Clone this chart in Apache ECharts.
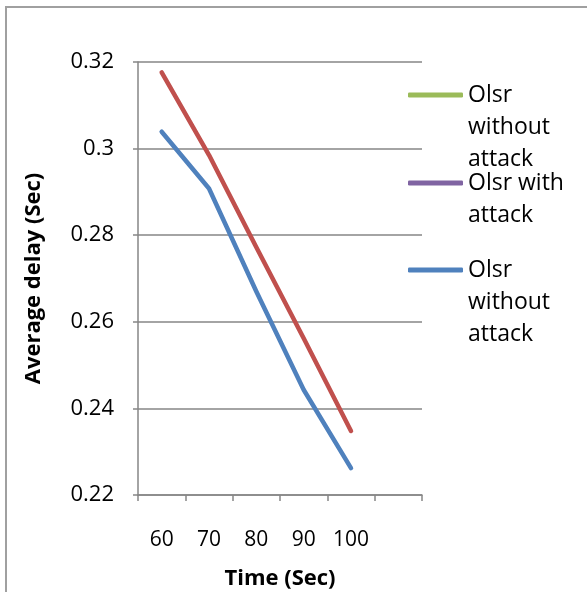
<!DOCTYPE html>
<html style="height: 100%">
<head>
    <meta charset="utf-8">
</head>
<body style="height: 100%; margin: 0; background: #fff">
<div id="container" style="width: 587px; height: 592px"></div>
<script type="text/javascript" src="https://cdn.jsdelivr.net/npm/echarts@6/dist/echarts.min.js"></script>
<script type="text/javascript">
    // data
    var times = ['60', '70', '80', '90', '100', ''];
    var greenDelay = [];                                      // hidden under the other lines
    var purpleDelay = [];
    var redDelay = [0.3176, 0.2985, 0.2772, 0.2562, 0.2348];
    var blueDelay = [0.3039, 0.2908, 0.2670, 0.2443, 0.2262];
    var yTicks = { min: 0.22, max: 0.32, step: 0.02 };

    var font = 'Open Sans';
    var gray = '#868686';

    var dom = document.getElementById("container");
    var myChart = echarts.init(dom);

    // the icon sits on the first text line, so pad with leading blank lines
    function legendBox(name, lines, top) {
        var pad = new Array(lines.length).join('\n');
        return {
            data: [name],
            left: 408,
            top: top,
            padding: 0,
            icon: 'roundRect',
            itemWidth: 55,
            itemHeight: 5,
            itemGap: 5,
            selectedMode: false,
            formatter: pad + lines.join('\n'),
            textStyle: {
                fontFamily: font,
                fontSize: 23,
                color: '#000',
                lineHeight: 32
            }
        };
    }

    var option = {
        animation: false,
        textStyle: { fontFamily: font },
        graphic: [{
            type: 'polyline',
            shape: { points: [[6, 592], [6, 7], [590, 7]] },
            style: { stroke: '#a0a0a0', lineWidth: 2, fill: null }
        }],
        grid: { left: 138, right: 165, top: 62, bottom: 97, outerBoundsMode: 'none' },
        legend: [
            legendBox('Olsr without attack', ['Olsr', 'without', 'attack'], 15),
            legendBox('Olsr with attack', ['Olsr with', 'attack'], 135),
            legendBox('Olsr without attack (2)', ['Olsr', 'without', 'attack'], 190)
        ],
        xAxis: {
            type: 'category',
            data: times,
            boundaryGap: true,
            name: 'Time (Sec)',
            nameLocation: 'middle',
            nameGap: 73,
            nameTextStyle: { fontFamily: font, fontSize: 22, fontWeight: 'bold', color: '#000' },
            axisLine: { lineStyle: { color: gray, width: 1.5 } },
            axisTick: { show: true, length: 6, lineStyle: { color: gray, width: 1.5 } },
            axisLabel: { margin: 35, fontFamily: font, fontSize: 21, color: '#000', interval: 0 },
            splitLine: { show: false }
        },
        yAxis: {
            type: 'value',
            min: yTicks.min,
            max: yTicks.max,
            interval: yTicks.step,
            name: 'Average delay (Sec)',
            nameLocation: 'middle',
            nameGap: 93,
            nameTextStyle: { fontFamily: font, fontSize: 22, fontWeight: 'bold', color: '#000' },
            axisLine: { show: true, lineStyle: { color: gray, width: 1.5 } },
            axisTick: { show: true, length: 5, lineStyle: { color: gray, width: 1.5 } },
            axisLabel: {
                margin: 24, fontFamily: font, fontSize: 22, color: '#000',
                formatter: function (v) { return String(Math.round(v * 100) / 100); }
            },
            splitLine: { lineStyle: { color: gray, width: 1.5 } }
        },
        series: [
            {
                name: 'Olsr without attack', type: 'line', data: greenDelay,
                symbol: 'none', color: '#9BBB59', lineStyle: { width: 4.5 }
            },
            {
                name: 'Olsr with attack', type: 'line', data: purpleDelay,
                symbol: 'none', color: '#8064A2', lineStyle: { width: 4.5 }
            },
            {
                name: 'Olsr red', type: 'line', data: redDelay,
                symbol: 'none', color: '#C0504D', lineStyle: { width: 4.5, cap: 'round', join: 'round' }
            },
            {
                name: 'Olsr without attack (2)', type: 'line', data: blueDelay,
                symbol: 'none', color: '#4F81BD', lineStyle: { width: 4.5, cap: 'round', join: 'round' }
            }
        ]
    };

    if (option && typeof option === "object") {
        myChart.setOption(option, true);
    }
</script>
</body>
</html>
